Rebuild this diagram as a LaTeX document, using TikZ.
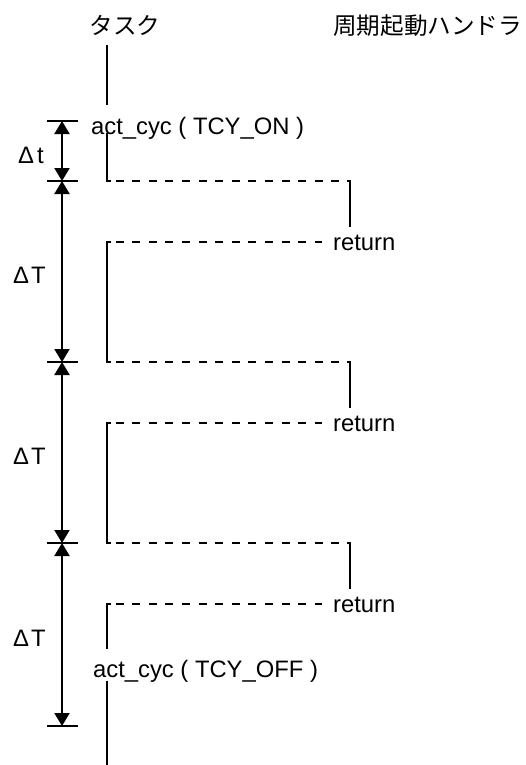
\documentclass[tikz,border=0pt]{standalone}
\usepackage{fontspec}
\setmainfont{Liberation Sans}
\newfontfamily\jpfont{Noto Sans CJK JP}
\usetikzlibrary{arrows.meta}

\begin{document}
\begin{tikzpicture}[x=1pt,y=-1pt,
  lifeline/.style={line width=2pt},
  callgap/.style={line width=2pt, dash pattern=on 8pt off 8.6pt, dash phase=8pt},
  tickline/.style={line width=1.7pt},
  dimarrow/.style={line width=2pt,
    {Triangle[width=15pt,length=13pt]}-{Triangle[width=15pt,length=13pt]}},
  lbl/.style={font=\fontsize{23.8}{28}\selectfont, inner sep=0pt, anchor=base west},
  jplbl/.style={font=\fontsize{23.6}{28}\selectfont\jpfont, inner sep=0pt, anchor=base west},
]
\useasboundingbox (0,0) rectangle (525,765);

% column headings
\node[jplbl, anchor=base] (task) at (125,35) {タスク};
\node[jplbl] (handler) at (333,35) {周期起動ハンドラ};

% task lifeline up to the first call
\coordinate (t0) at (107,45);
\coordinate (t0e) at (107,105);
\draw[lifeline] (t0) -- (t0e);
\node[lbl] (on) at (91,135) {act\_cyc ( TCY\_ON )};
\coordinate (t1s) at (107,133);

% activation points of the cyclic handler
\coordinate (c1) at (107,181);
\coordinate (c2) at (107,362);
\coordinate (c3) at (107,543);
\draw[lifeline] (t1s) -- (c1) -- ++(4,0);

\foreach \k/\y in {1/181,2/362,3/543}{
  \coordinate (h\k) at (350,\y);
  \coordinate (h\k e) at (350,\y+46);
  \coordinate (r\k) at (107,\y+61);
  \coordinate (r\k e) at (322,\y+61);
  \draw[callgap] (c\k) -- (h\k);
  \draw[lifeline] (h\k) ++(-3,0) -- (h\k) -- (h\k e);
  \draw[callgap] (r\k) -- (r\k e);
  \node[lbl] (ret\k) at (333,\y+69) {return};
}

% task lifeline between handler runs
\draw[lifeline] (r1) ++(4,0) -- (r1) -- (c2) -- ++(4,0);
\draw[lifeline] (r2) ++(4,0) -- (r2) -- (c3) -- ++(4,0);
\coordinate (t3e) at (107,649);
\draw[lifeline] (r3) ++(4,0) -- (r3) -- (t3e);
\node[lbl] (off) at (93,677) {act\_cyc ( TCY\_OFF )};
\coordinate (t4s) at (107,681);
\coordinate (t4e) at (107,765);
\draw[lifeline] (t4s) -- (t4e);

% time dimensions
\foreach \i/\y in {0/121,1/181,2/362,3/543,4/726}{
  \coordinate (ta\i) at (47,\y);
  \coordinate (tb\i) at (78,\y);
  \coordinate (d\i) at (62,\y);
  \draw[tickline] (ta\i) -- (tb\i);
}
\draw[dimarrow] (d0) -- (d1);
\draw[dimarrow] (d1) -- (d2);
\draw[dimarrow] (d2) -- (d3);
\draw[dimarrow] (d3) -- (d4);

\node[lbl] (dt) at (18,163) {Δ\hspace{3pt}t};
\node[lbl] (dT1) at (13,283) {Δ\hspace{2pt}T};
\node[lbl] (dT2) at (13,464) {Δ\hspace{2pt}T};
\node[lbl] (dT3) at (13,646) {Δ\hspace{2pt}T};
\end{tikzpicture}
\end{document}
